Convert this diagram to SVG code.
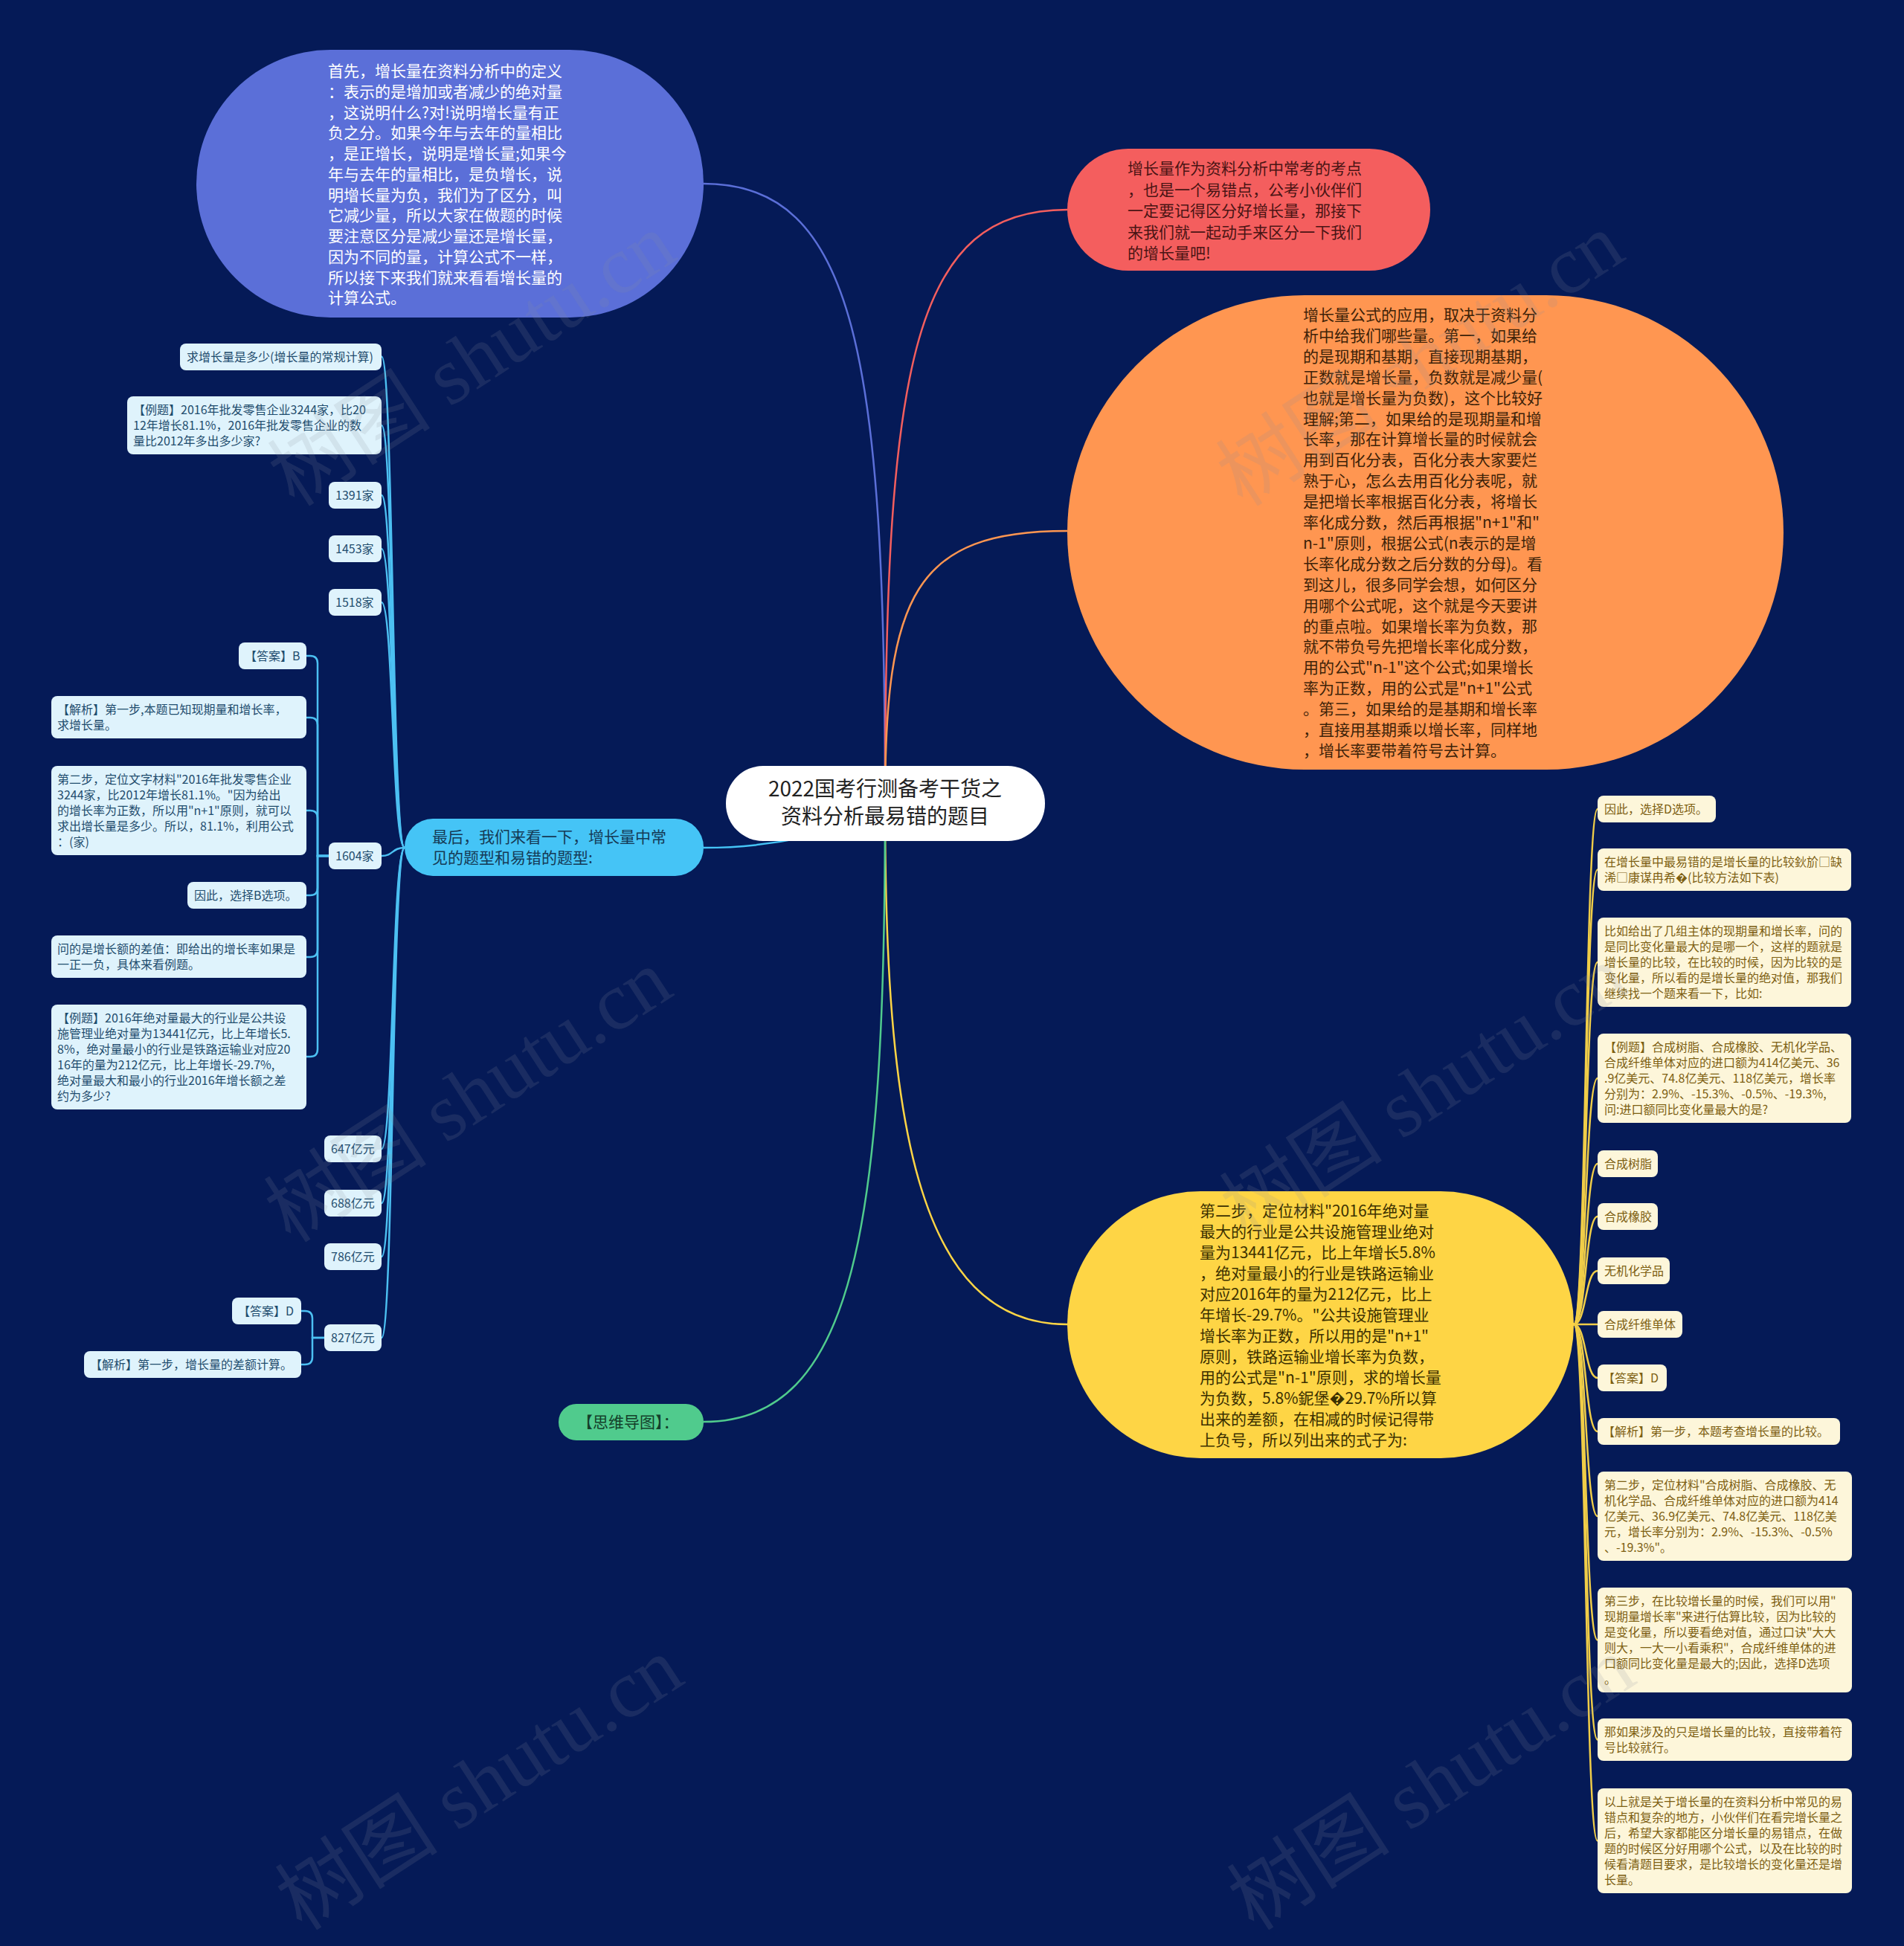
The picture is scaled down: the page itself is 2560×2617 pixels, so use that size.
<svg xmlns="http://www.w3.org/2000/svg" width="2560" height="2617" viewBox="0 0 2560 2617">
<style>
text { font-family: "Noto Sans CJK SC", "Noto Sans", sans-serif; }
.m { font-size: 21px; }
.s { font-size: 16px; }
.cl { fill: #dff3fc; }
.ct { fill: #1f4d6e; }
.yl { fill: #fdf6da; }
.yt { fill: #7d5f12; }
.cc { fill: none; stroke: #4cc0f2; stroke-width: 2.5; }
.yc { fill: none; stroke: #f0cd48; stroke-width: 2.5; }
.wm { font-family: "Liberation Serif", "Noto Sans CJK SC", serif; font-size: 110px; fill: #8a8f9c; fill-opacity: 0.16; }
</style>
<rect x="0" y="0" width="2560" height="2617" fill="#051a57"/>

<g id="connectors">
  <path d="M1190 1080 C1190 480 1150 247 946 247" fill="none" stroke="#5b6fd8" stroke-width="2.5"/>
  <path d="M1190 1080 C1190 480 1230 282 1435 282" fill="none" stroke="#f45e5e" stroke-width="2.5"/>
  <path d="M1190 1080 C1190 800 1230 714 1435 714" fill="none" stroke="#ff9651" stroke-width="2.5"/>
  <path d="M1190 1080 C1190 1500 1230 1781 1435 1781" fill="none" stroke="#fed545" stroke-width="2.5"/>
  <path d="M1190 1080 C1190 1650 1150 1912 946 1912" fill="none" stroke="#50cb8d" stroke-width="2.5"/>
  <path d="M1190 1080 C1140 1125 1020 1140 946 1140" fill="none" stroke="#45c4f6" stroke-width="2.5"/>
  <path class="cc" d="M544 1140 C527 1140 529 479.5 513 479.5"/>
  <path class="cc" d="M544 1140 C527 1140 529 572 513 572"/>
  <path class="cc" d="M544 1140 C527 1140 529 666 513 666"/>
  <path class="cc" d="M544 1140 C527 1140 529 738 513 738"/>
  <path class="cc" d="M544 1140 C527 1140 529 810 513 810"/>
  <path class="cc" d="M544 1140 C527 1140 529 1151 513 1151"/>
  <path class="cc" d="M544 1140 C527 1140 529 1545 513 1545"/>
  <path class="cc" d="M544 1140 C527 1140 529 1618 513 1618"/>
  <path class="cc" d="M544 1140 C527 1140 529 1690 513 1690"/>
  <path class="cc" d="M544 1140 C527 1140 529 1799 513 1799"/>
  <path class="cc" d="M442 1151 H427 V892 Q427 882 417 882 H412"/>
  <path class="cc" d="M442 1151 H427 V975 Q427 965 417 965 H412"/>
  <path class="cc" d="M442 1151 H427 V1100 Q427 1090 417 1090 H412"/>
  <path class="cc" d="M442 1151 H427 V1194 Q427 1204 417 1204 H412"/>
  <path class="cc" d="M442 1151 H427 V1277 Q427 1287 417 1287 H412"/>
  <path class="cc" d="M442 1151 H427 V1411 Q427 1421 417 1421 H412"/>
  <path class="cc" d="M436 1799 H420 V1773 Q420 1763 410 1763 H405"/>
  <path class="cc" d="M436 1799 H420 V1825 Q420 1835 410 1835 H405"/>
  <path class="yc" d="M2116 1781 C2133 1781 2131 1088 2148 1088"/>
  <path class="yc" d="M2116 1781 C2133 1781 2131 1169.5 2148 1169.5"/>
  <path class="yc" d="M2116 1781 C2133 1781 2131 1294 2148 1294"/>
  <path class="yc" d="M2116 1781 C2133 1781 2131 1450 2148 1450"/>
  <path class="yc" d="M2116 1781 C2133 1781 2131 1565 2148 1565"/>
  <path class="yc" d="M2116 1781 C2133 1781 2131 1636 2148 1636"/>
  <path class="yc" d="M2116 1781 C2133 1781 2131 1709 2148 1709"/>
  <path class="yc" d="M2116 1781 C2133 1781 2131 1781 2148 1781"/>
  <path class="yc" d="M2116 1781 C2133 1781 2131 1853 2148 1853"/>
  <path class="yc" d="M2116 1781 C2133 1781 2131 1925 2148 1925"/>
  <path class="yc" d="M2116 1781 C2133 1781 2131 2039 2148 2039"/>
  <path class="yc" d="M2116 1781 C2133 1781 2131 2205.5 2148 2205.5"/>
  <path class="yc" d="M2116 1781 C2133 1781 2131 2339.5 2148 2339.5"/>
  <path class="yc" d="M2116 1781 C2133 1781 2131 2475.5 2148 2475.5"/>
</g>

<g id="center">
  <rect x="976" y="1030" width="429" height="101" rx="50" fill="#ffffff"/>
  <text x="1190" y="1071" font-size="28" fill="#222222" text-anchor="middle">2022国考行测备考干货之</text>
  <text x="1190" y="1108" font-size="28" fill="#222222" text-anchor="middle">资料分析最易错的题目</text>
</g>

<g id="n-blue">
  <rect x="264" y="67" width="682" height="360" rx="180" fill="#5b6fd8"/>
  <text class="m" fill="#ffffff">
    <tspan x="441" y="103">首先，增长量在资料分析中的定义</tspan>
    <tspan x="441" y="130.7">：表示的是增加或者减少的绝对量</tspan>
    <tspan x="441" y="158.5">，这说明什么?对!说明增长量有正</tspan>
    <tspan x="441" y="186.2">负之分。如果今年与去年的量相比</tspan>
    <tspan x="441" y="214">，是正增长，说明是增长量;如果今</tspan>
    <tspan x="441" y="241.7">年与去年的量相比，是负增长，说</tspan>
    <tspan x="441" y="269.5">明增长量为负，我们为了区分，叫</tspan>
    <tspan x="441" y="297.2">它减少量，所以大家在做题的时候</tspan>
    <tspan x="441" y="325">要注意区分是减少量还是增长量，</tspan>
    <tspan x="441" y="352.7">因为不同的量，计算公式不一样，</tspan>
    <tspan x="441" y="380.5">所以接下来我们就来看看增长量的</tspan>
    <tspan x="441" y="408.2">计算公式。</tspan>
  </text>
</g>

<g id="n-red">
  <rect x="1435" y="200" width="488" height="164" rx="82" fill="#f45e5e"/>
  <text class="m" fill="#4a1414">
    <tspan x="1516" y="234">增长量作为资料分析中常考的考点</tspan>
    <tspan x="1516" y="262.5">，也是一个易错点，公考小伙伴们</tspan>
    <tspan x="1516" y="291">一定要记得区分好增长量，那接下</tspan>
    <tspan x="1516" y="319.5">来我们就一起动手来区分一下我们</tspan>
    <tspan x="1516" y="348">的增长量吧!</tspan>
  </text>
</g>

<g id="n-orange">
  <rect x="1435" y="397" width="963" height="638" rx="319" fill="#ff9651"/>
  <text class="m" fill="#3d2208">
    <tspan x="1752" y="431">增长量公式的应用，取决于资料分</tspan>
    <tspan x="1752" y="458.9">析中给我们哪些量。第一，如果给</tspan>
    <tspan x="1752" y="486.8">的是现期和基期，直接现期基期，</tspan>
    <tspan x="1752" y="514.7">正数就是增长量，负数就是减少量(</tspan>
    <tspan x="1752" y="542.6">也就是增长量为负数)，这个比较好</tspan>
    <tspan x="1752" y="570.5">理解;第二，如果给的是现期量和增</tspan>
    <tspan x="1752" y="598.4">长率，那在计算增长量的时候就会</tspan>
    <tspan x="1752" y="626.3">用到百化分表，百化分表大家要烂</tspan>
    <tspan x="1752" y="654.2">熟于心，怎么去用百化分表呢，就</tspan>
    <tspan x="1752" y="682.1">是把增长率根据百化分表，将增长</tspan>
    <tspan x="1752" y="710">率化成分数，然后再根据"n+1"和"</tspan>
    <tspan x="1752" y="737.9">n-1"原则，根据公式(n表示的是增</tspan>
    <tspan x="1752" y="765.8">长率化成分数之后分数的分母)。看</tspan>
    <tspan x="1752" y="793.7">到这儿，很多同学会想，如何区分</tspan>
    <tspan x="1752" y="821.6">用哪个公式呢，这个就是今天要讲</tspan>
    <tspan x="1752" y="849.5">的重点啦。如果增长率为负数，那</tspan>
    <tspan x="1752" y="877.4">就不带负号先把增长率化成分数，</tspan>
    <tspan x="1752" y="905.3">用的公式"n-1"这个公式;如果增长</tspan>
    <tspan x="1752" y="933.2">率为正数，用的公式是"n+1"公式</tspan>
    <tspan x="1752" y="961.1">。第三，如果给的是基期和增长率</tspan>
    <tspan x="1752" y="989">，直接用基期乘以增长率，同样地</tspan>
    <tspan x="1752" y="1016.9">，增长率要带着符号去计算。</tspan>
  </text>
</g>

<g id="n-yellow">
  <rect x="1435" y="1602" width="681" height="359" rx="179" fill="#fed545"/>
  <text class="m" fill="#3b3000">
    <tspan x="1613" y="1636">第二步，定位材料"2016年绝对量</tspan>
    <tspan x="1613" y="1664">最大的行业是公共设施管理业绝对</tspan>
    <tspan x="1613" y="1692">量为13441亿元，比上年增长5.8%</tspan>
    <tspan x="1613" y="1720">，绝对量最小的行业是铁路运输业</tspan>
    <tspan x="1613" y="1748">对应2016年的量为212亿元，比上</tspan>
    <tspan x="1613" y="1776">年增长-29.7%。"公共设施管理业</tspan>
    <tspan x="1613" y="1804">增长率为正数，所以用的是"n+1"</tspan>
    <tspan x="1613" y="1832">原则，铁路运输业增长率为负数，</tspan>
    <tspan x="1613" y="1860">用的公式是"n-1"原则，求的增长量</tspan>
    <tspan x="1613" y="1888">为负数，5.8%鈮堡�29.7%所以算</tspan>
    <tspan x="1613" y="1916">出来的差额，在相减的时候记得带</tspan>
    <tspan x="1613" y="1944">上负号，所以列出来的式子为:</tspan>
  </text>
</g>

<g id="n-cyan">
  <rect x="544" y="1101" width="402" height="77" rx="38" fill="#45c4f6"/>
  <text class="m" fill="#153a55">
    <tspan x="581" y="1133">最后，我们来看一下，增长量中常</tspan>
    <tspan x="581" y="1161">见的题型和易错的题型:</tspan>
  </text>
</g>

<g id="n-green">
  <rect x="751" y="1888" width="195" height="49" rx="24" fill="#50cb8d"/>
  <text class="m" x="776" y="1920" fill="#14402a">【思维导图】：</text>
</g>

<g id="c1"><rect class="cl" x="242" y="462" width="271" height="36" rx="8"/><text class="s ct" x="251" y="486">求增长量是多少(增长量的常规计算)</text></g>
<g id="c2"><rect class="cl" x="171" y="533" width="342" height="78" rx="8"/><text class="s ct"><tspan x="179" y="557">【例题】2016年批发零售企业3244家，比20</tspan><tspan x="179" y="578">12年增长81.1%，2016年批发零售企业的数</tspan><tspan x="179" y="599">量比2012年多出多少家?</tspan></text></g>
<g id="c3"><rect class="cl" x="442" y="648" width="71" height="36" rx="8"/><text class="s ct" x="451" y="672">1391家</text></g>
<g id="c4"><rect class="cl" x="442" y="720" width="71" height="36" rx="8"/><text class="s ct" x="451" y="744">1453家</text></g>
<g id="c5"><rect class="cl" x="442" y="792" width="71" height="36" rx="8"/><text class="s ct" x="451" y="816">1518家</text></g>
<g id="c6"><rect class="cl" x="442" y="1133" width="71" height="36" rx="8"/><text class="s ct" x="451" y="1157">1604家</text></g>
<g id="c6a"><rect class="cl" x="321" y="864" width="91" height="36" rx="8"/><text class="s ct" x="329" y="888">【答案】B</text></g>
<g id="c6b"><rect class="cl" x="69" y="936" width="343" height="57" rx="8"/><text class="s ct"><tspan x="77" y="960">【解析】第一步,本题已知现期量和增长率，</tspan><tspan x="77" y="981">求增长量。</tspan></text></g>
<g id="c6c"><rect class="cl" x="69" y="1030" width="343" height="120" rx="8"/><text class="s ct"><tspan x="77" y="1054">第二步，定位文字材料"2016年批发零售企业</tspan><tspan x="77" y="1075">3244家，比2012年增长81.1%。"因为给出</tspan><tspan x="77" y="1096">的增长率为正数，所以用"n+1"原则，就可以</tspan><tspan x="77" y="1117">求出增长量是多少。所以，81.1%，利用公式</tspan><tspan x="77" y="1138">：(家)</tspan></text></g>
<g id="c6d"><rect class="cl" x="252" y="1186" width="160" height="36" rx="8"/><text class="s ct" x="261" y="1210">因此，选择B选项。</text></g>
<g id="c6e"><rect class="cl" x="69" y="1258" width="343" height="57" rx="8"/><text class="s ct"><tspan x="77" y="1282">问的是增长额的差值：即给出的增长率如果是</tspan><tspan x="77" y="1303">一正一负，具体来看例题。</tspan></text></g>
<g id="c6f"><rect class="cl" x="69" y="1351" width="343" height="141" rx="8"/><text class="s ct"><tspan x="77" y="1375">【例题】2016年绝对量最大的行业是公共设</tspan><tspan x="77" y="1396">施管理业绝对量为13441亿元，比上年增长5.</tspan><tspan x="77" y="1417">8%，绝对量最小的行业是铁路运输业对应20</tspan><tspan x="77" y="1438">16年的量为212亿元，比上年增长-29.7%,</tspan><tspan x="77" y="1459">绝对量最大和最小的行业2016年增长额之差</tspan><tspan x="77" y="1480">约为多少?</tspan></text></g>
<g id="c7"><rect class="cl" x="436" y="1527" width="77" height="36" rx="8"/><text class="s ct" x="445" y="1551">647亿元</text></g>
<g id="c8"><rect class="cl" x="436" y="1600" width="77" height="36" rx="8"/><text class="s ct" x="445" y="1624">688亿元</text></g>
<g id="c9"><rect class="cl" x="436" y="1672" width="77" height="36" rx="8"/><text class="s ct" x="445" y="1696">786亿元</text></g>
<g id="c10"><rect class="cl" x="436" y="1781" width="77" height="36" rx="8"/><text class="s ct" x="445" y="1805">827亿元</text></g>
<g id="c10a"><rect class="cl" x="312" y="1745" width="93" height="36" rx="8"/><text class="s ct" x="320" y="1769">【答案】D</text></g>
<g id="c10b"><rect class="cl" x="113" y="1817" width="292" height="36" rx="8"/><text class="s ct" x="121" y="1841">【解析】第一步，增长量的差额计算。</text></g>

<g id="y1"><rect class="yl" x="2148" y="1070" width="159" height="36" rx="8"/><text class="s yt" x="2157" y="1094">因此，选择D选项。</text></g>
<g id="y2"><rect class="yl" x="2148" y="1141" width="341" height="57" rx="8"/><text class="s yt"><tspan x="2157" y="1165">在增长量中最易错的是增长量的比较鈥斺□缺</tspan><tspan x="2157" y="1186">浠□康谋冉希�(比较方法如下表)</tspan></text></g>
<g id="y3"><rect class="yl" x="2148" y="1234" width="341" height="120" rx="8"/><text class="s yt"><tspan x="2157" y="1258">比如给出了几组主体的现期量和增长率，问的</tspan><tspan x="2157" y="1279">是同比变化量最大的是哪一个，这样的题就是</tspan><tspan x="2157" y="1300">增长量的比较，在比较的时候，因为比较的是</tspan><tspan x="2157" y="1321">变化量，所以看的是增长量的绝对值，那我们</tspan><tspan x="2157" y="1342">继续找一个题来看一下，比如:</tspan></text></g>
<g id="y4"><rect class="yl" x="2148" y="1390" width="341" height="120" rx="8"/><text class="s yt"><tspan x="2157" y="1414">【例题】合成树脂、合成橡胶、无机化学品、</tspan><tspan x="2157" y="1435">合成纤维单体对应的进口额为414亿美元、36</tspan><tspan x="2157" y="1456">.9亿美元、74.8亿美元、118亿美元，增长率</tspan><tspan x="2157" y="1477">分别为：2.9%、-15.3%、-0.5%、-19.3%,</tspan><tspan x="2157" y="1498">问:进口额同比变化量最大的是?</tspan></text></g>
<g id="y5"><rect class="yl" x="2148" y="1547" width="81" height="36" rx="8"/><text class="s yt" x="2157" y="1571">合成树脂</text></g>
<g id="y6"><rect class="yl" x="2148" y="1618" width="81" height="36" rx="8"/><text class="s yt" x="2157" y="1642">合成橡胶</text></g>
<g id="y7"><rect class="yl" x="2148" y="1691" width="97" height="36" rx="8"/><text class="s yt" x="2157" y="1715">无机化学品</text></g>
<g id="y8"><rect class="yl" x="2148" y="1763" width="114" height="36" rx="8"/><text class="s yt" x="2157" y="1787">合成纤维单体</text></g>
<g id="y9"><rect class="yl" x="2148" y="1835" width="93" height="36" rx="8"/><text class="s yt" x="2155" y="1859">【答案】D</text></g>
<g id="y10"><rect class="yl" x="2148" y="1907" width="326" height="36" rx="8"/><text class="s yt" x="2155" y="1931">【解析】第一步，本题考查增长量的比较。</text></g>
<g id="y11"><rect class="yl" x="2148" y="1979" width="342" height="120" rx="8"/><text class="s yt"><tspan x="2157" y="2003">第二步，定位材料"合成树脂、合成橡胶、无</tspan><tspan x="2157" y="2024">机化学品、合成纤维单体对应的进口额为414</tspan><tspan x="2157" y="2045">亿美元、36.9亿美元、74.8亿美元、118亿美</tspan><tspan x="2157" y="2066">元，增长率分别为：2.9%、-15.3%、-0.5%</tspan><tspan x="2157" y="2087">、-19.3%"。</tspan></text></g>
<g id="y12"><rect class="yl" x="2148" y="2135" width="342" height="141" rx="8"/><text class="s yt"><tspan x="2157" y="2159">第三步，在比较增长量的时候，我们可以用"</tspan><tspan x="2157" y="2180">现期量增长率"来进行估算比较，因为比较的</tspan><tspan x="2157" y="2201">是变化量，所以要看绝对值，通过口诀"大大</tspan><tspan x="2157" y="2222">则大，一大一小看乘积"，合成纤维单体的进</tspan><tspan x="2157" y="2243">口额同比变化量是最大的;因此，选择D选项</tspan><tspan x="2157" y="2264">。</tspan></text></g>
<g id="y13"><rect class="yl" x="2148" y="2311" width="342" height="57" rx="8"/><text class="s yt"><tspan x="2157" y="2335">那如果涉及的只是增长量的比较，直接带着符</tspan><tspan x="2157" y="2356">号比较就行。</tspan></text></g>
<g id="y14"><rect class="yl" x="2148" y="2405" width="342" height="141" rx="8"/><text class="s yt"><tspan x="2157" y="2429">以上就是关于增长量的在资料分析中常见的易</tspan><tspan x="2157" y="2450">错点和复杂的地方，小伙伴们在看完增长量之</tspan><tspan x="2157" y="2471">后，希望大家都能区分增长量的易错点，在做</tspan><tspan x="2157" y="2492">题的时候区分好用哪个公式，以及在比较的时</tspan><tspan x="2157" y="2513">候看清题目要求，是比较增长的变化量还是增</tspan><tspan x="2157" y="2534">长量。</tspan></text></g>

<g id="watermarks">
  <text class="wm" x="655" y="515" text-anchor="middle" transform="rotate(-33 655 515)">树图 shutu.cn</text>
  <text class="wm" x="1930" y="515" text-anchor="middle" transform="rotate(-33 1930 515)">树图 shutu.cn</text>
  <text class="wm" x="650" y="1505" text-anchor="middle" transform="rotate(-33 650 1505)">树图 shutu.cn</text>
  <text class="wm" x="1935" y="1500" text-anchor="middle" transform="rotate(-33 1935 1500)">树图 shutu.cn</text>
  <text class="wm" x="665" y="2430" text-anchor="middle" transform="rotate(-33 665 2430)">树图 shutu.cn</text>
  <text class="wm" x="1945" y="2430" text-anchor="middle" transform="rotate(-33 1945 2430)">树图 shutu.cn</text>
</g>
</svg>
